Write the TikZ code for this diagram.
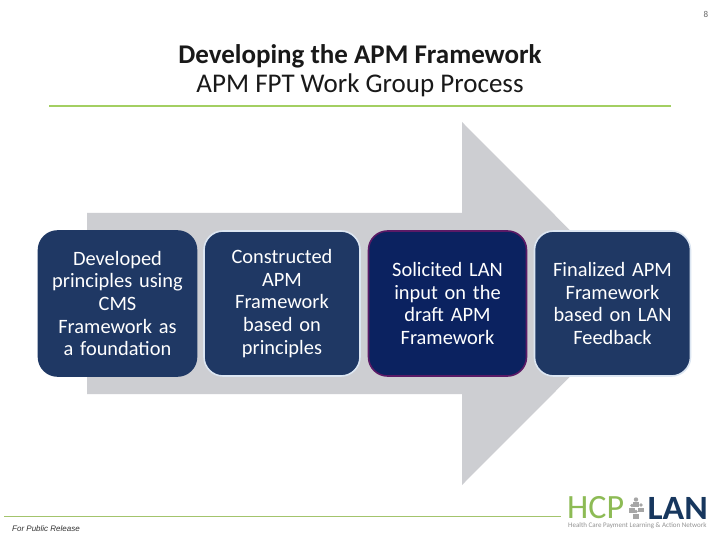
\documentclass[tikz,border=0pt]{standalone}
\usepackage{fontspec}
\usepackage{xcolor}
\setmainfont{Carlito}
\newfontfamily\footfont{Liberation Sans}
\usetikzlibrary{shapes.geometric, arrows, positioning}
\definecolor{boxblue}{HTML}{1F3864}
\definecolor{boxdark}{HTML}{0B2260}
\definecolor{boxedge}{HTML}{DCE6F2}
\definecolor{arrowgray}{HTML}{CDCED2}
\definecolor{rulegreen}{HTML}{A3CF62}
\definecolor{footgreen}{HTML}{A3C46C}
\definecolor{hcpgreen}{HTML}{8DBB55}
\definecolor{lanblue}{HTML}{17375E}
\definecolor{purpleedge}{HTML}{5B1A66}
\tikzset{
  stepbox/.style={draw=boxedge, line width=1.6pt, fill=boxblue, rounded corners=19pt,
    minimum width=156pt, minimum height=145pt, inner sep=2pt,
    text width=148pt, align=center, text=white, font=\fontsize{20.4}{22.6}\selectfont},
  person/.style={fill=gray!70, draw=none}
}
\begin{document}
\begin{tikzpicture}[x=1pt, y=-1pt]
\useasboundingbox (0,0) rectangle (720,540);
\fill[white] (0,0) rectangle (720,540);
% Page number
\node[font=\fontsize{9}{10}\selectfont, text=gray!80!black] (pagenum) at (706,14) {8};
% Title
\node[align=center, font=\fontsize{27}{29}\selectfont, text=black!90] (title) at (360,70.5)
  {\textbf{Developing the APM Framework}\\APM FPT Work Group Process};
\draw[rulegreen, line width=2.6pt] (49,106) -- (671,106);
% Big arrow
\fill[arrowgray] (87,213) -- (462,213) -- (462,122) -- (643,303.5) -- (462,485) -- (462,394) -- (87,394) -- cycle;
% Boxes
\node[stepbox, draw=boxblue, minimum width=158pt] (develop) at (117.5,303.5) {Developed\\principles using\\CMS\\Framework as\\a foundation};
\node[stepbox] (construct) at (282,303.5) {Constructed\\APM\\Framework\\based on\\principles};
\node[stepbox, draw=purpleedge, fill=boxdark, minimum width=158pt] (solicit) at (447.5,303.5) {Solicited LAN\\input on the\\draft APM\\Framework};
\node[stepbox] (finalize) at (612.5,303.5) {Finalized APM\\Framework\\based on LAN\\Feedback};
% Footer
\draw[footgreen, thick] (4,516.5) -- (561,516.5);
\node[anchor=west, inner sep=0pt, font=\footfont\itshape\fontsize{8}{9}\selectfont, text=black!80] (release) at (12,529) {For Public Release};
% Logo
\node[anchor=west, inner sep=0pt, text=hcpgreen, font=\fontsize{34}{34}\selectfont] (hcp) at (567,508) {HCP};
\node[anchor=east, inner sep=0pt, xscale=1.05, text=lanblue, font=\bfseries\fontsize{34}{34}\selectfont] (lan) at (708,508) {LAN};
\foreach \px/\py/\pr in {636/499.5/2.2, 632/505.5/1.9, 641/505/1.9, 636/511.5/1.9}{
  \fill[person] (\px,\py) circle (\pr);
  \fill[person] (\px-2.6,\py+7) -- (\px-2.6,\py+2.5) -- (\px+2.6,\py+2.5) -- (\px+2.6,\py+7) -- cycle;
}
\node[anchor=west, inner sep=0pt, text=gray!85, font=\fontsize{7}{7}\selectfont] (network) at (568,526) {Health Care Payment Learning \& Action Network};
\end{tikzpicture}
\end{document}
